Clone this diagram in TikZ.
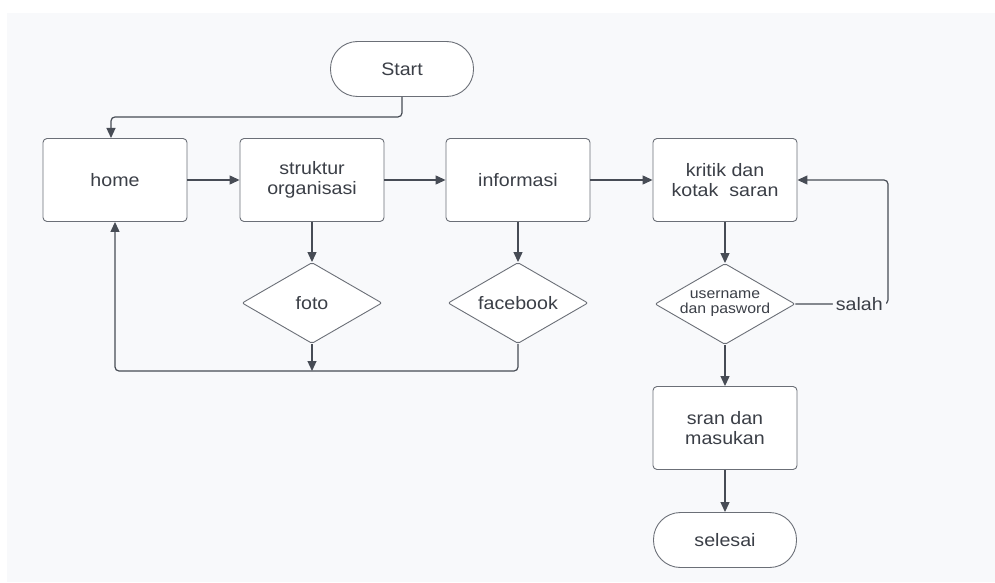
\documentclass[tikz,border=0pt]{standalone}
\usepackage{fontspec}
\setmainfont{Liberation Sans}[FakeStretch=1.09]
\usetikzlibrary{shapes.geometric,arrows.meta}
\definecolor{panel}{HTML}{F8F9FB}
\definecolor{txt}{HTML}{3B3F47}
\definecolor{ln}{HTML}{474C55}
\definecolor{bd}{HTML}{6B6F77}
\tikzset{
  box/.style={draw=bd, line width=0.9pt, fill=white, rounded corners=4pt, minimum width=144pt, minimum height=83pt, inner sep=0pt, align=center, text=txt, font=\fontsize{18}{20}\selectfont},
  term/.style={draw=bd, line width=0.9pt, fill=white, rounded corners=27pt, minimum width=143pt, minimum height=55pt, inner sep=0pt, text=txt, font=\fontsize{18}{20}\selectfont},
  dia/.style={draw=bd, line width=0.9pt, fill=white, shape=diamond, aspect=1.73, rounded corners=2pt, minimum width=140pt, minimum height=81pt, inner sep=0pt, align=center, text=txt, font=\fontsize{18}{20}\selectfont},
  conn/.style={draw=ln, line width=1.2pt, rounded corners=4pt, -{Triangle[length=10pt,width=9pt]}},
  lbl/.style={fill=panel, text=txt, inner sep=3pt, font=\fontsize{18}{20}\selectfont}
}
\begin{document}
\begin{tikzpicture}[x=1pt,y=-1pt]
\useasboundingbox (0,0) rectangle (995,583);
\fill[white] (0,0) rectangle (995,583);
\fill[panel] (7,13) rectangle (995,582);

\node[term] (start) at (402,69) {Start};
\node[box] (home) at (115,180) {home};
\node[box] (struk) at (312,180) {struktur\\organisasi};
\node[box] (info) at (518,180) {informasi};
\node[box] (kritik) at (725,180) {kritik dan\\kotak\ \ saran};
\node[dia] (foto) at (312,303) {foto};
\node[dia] (fb) at (518,303) {facebook};
\node[dia, inner sep=-10pt, font=\fontsize{14.5}{15}\selectfont] (user) at (725,304) {username\\dan pasword};
\node[box] (sran) at (725,428) {sran dan\\masukan};
\node[term] (selesai) at (725,540) {selesai};

\coordinate (hin) at (111,138);
\coordinate (bot) at (312,371);
\coordinate (lp) at (888,304);

\draw[conn] (start.south) -- ++(0,20) -| (hin);
\draw[conn] (home.east) -- (struk.west);
\draw[conn] (struk.east) -- (info.west);
\draw[conn] (info.east) -- (kritik.west);
\draw[conn] (struk.south) -- (foto.north);
\draw[conn] (info.south) -- (fb.north);
\draw[conn] (foto.south) -- (bot);
\draw[conn] (fb.south) |- (bot) -| (home.south);
\draw[conn] (kritik.south) -- (user.north);
\draw[conn] (user.south) -- (sran.north);
\draw[conn] (sran.south) -- (selesai.north);
\draw[conn] (user.east) -- node[lbl, pos=0.69] {salah} (lp) |- (kritik.east);
\end{tikzpicture}
\end{document}
